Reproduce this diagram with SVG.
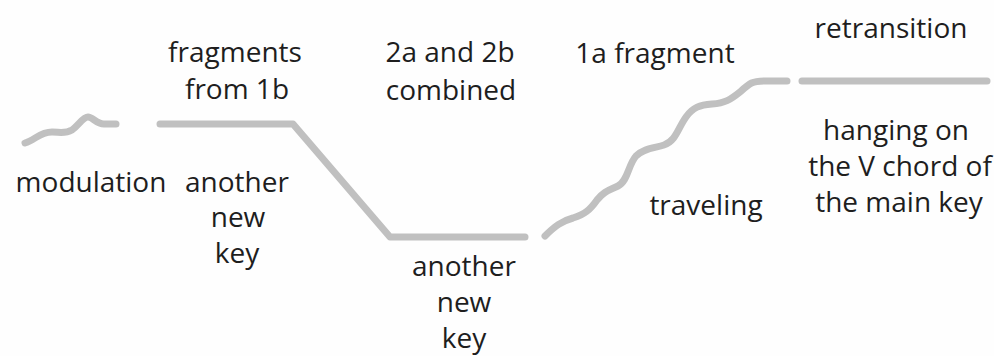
<svg xmlns="http://www.w3.org/2000/svg" width="994" height="356" viewBox="0 0 994 356">
<style>
.ln{fill:none;stroke:#c0c0c0;stroke-width:7;stroke-linecap:round;stroke-linejoin:round}
.t{font-family:"Open Sans","Noto Sans","Liberation Sans",sans-serif;font-size:28px;fill:#1e1e1e;text-anchor:middle}
</style>
<rect width="994" height="356" fill="#fefefe"/>
<g id="connectors">
<path class="ln" d="M25,143 C35,140 40,132 52,132 C60,132 65,134 72,130 C79,125 83,117 88,117 C93,117 96,124 104,124 L116,124"/>
<path class="ln" d="M160,124 L293,124 L390,237 L525,237"/>
<path class="ln" d="M545,236 C555,226 562,221 573,218 C585,214 590,210 597,200 C604,191 610,190 618,186 C628,181 628,165 636,156 C644,148 655,148 664,145 C676,141 678,128 686,117 C693,107 700,105 712,104 C725,103 730,100 740,92 C750,83 752,81 765,81 L787,81"/>
<path class="ln" d="M802,81 L987,81"/>
</g>
<g id="modulation"><text class="t" x="91" y="192">modulation</text></g>
<g id="fragments"><text class="t" x="235" y="62">fragments</text><text class="t" x="237" y="99">from 1b</text></g>
<g id="newkey1"><text class="t" x="237" y="192">another</text><text class="t" x="238" y="227">new</text><text class="t" x="237" y="263">key</text></g>
<g id="combined"><text class="t" x="450" y="62">2a and 2b</text><text class="t" x="451" y="100">combined</text></g>
<g id="newkey2"><text class="t" x="464" y="276">another</text><text class="t" x="464" y="312">new</text><text class="t" x="464" y="348">key</text></g>
<g id="fragment1a"><text class="t" x="655" y="63">1a fragment</text></g>
<g id="traveling"><text class="t" x="706" y="215">traveling</text></g>
<g id="retransition"><text class="t" x="891" y="38">retransition</text></g>
<g id="hanging"><text class="t" x="896" y="140">hanging on</text><text class="t" x="900" y="176">the V chord of</text><text class="t" x="899" y="212">the main key</text></g>
</svg>
